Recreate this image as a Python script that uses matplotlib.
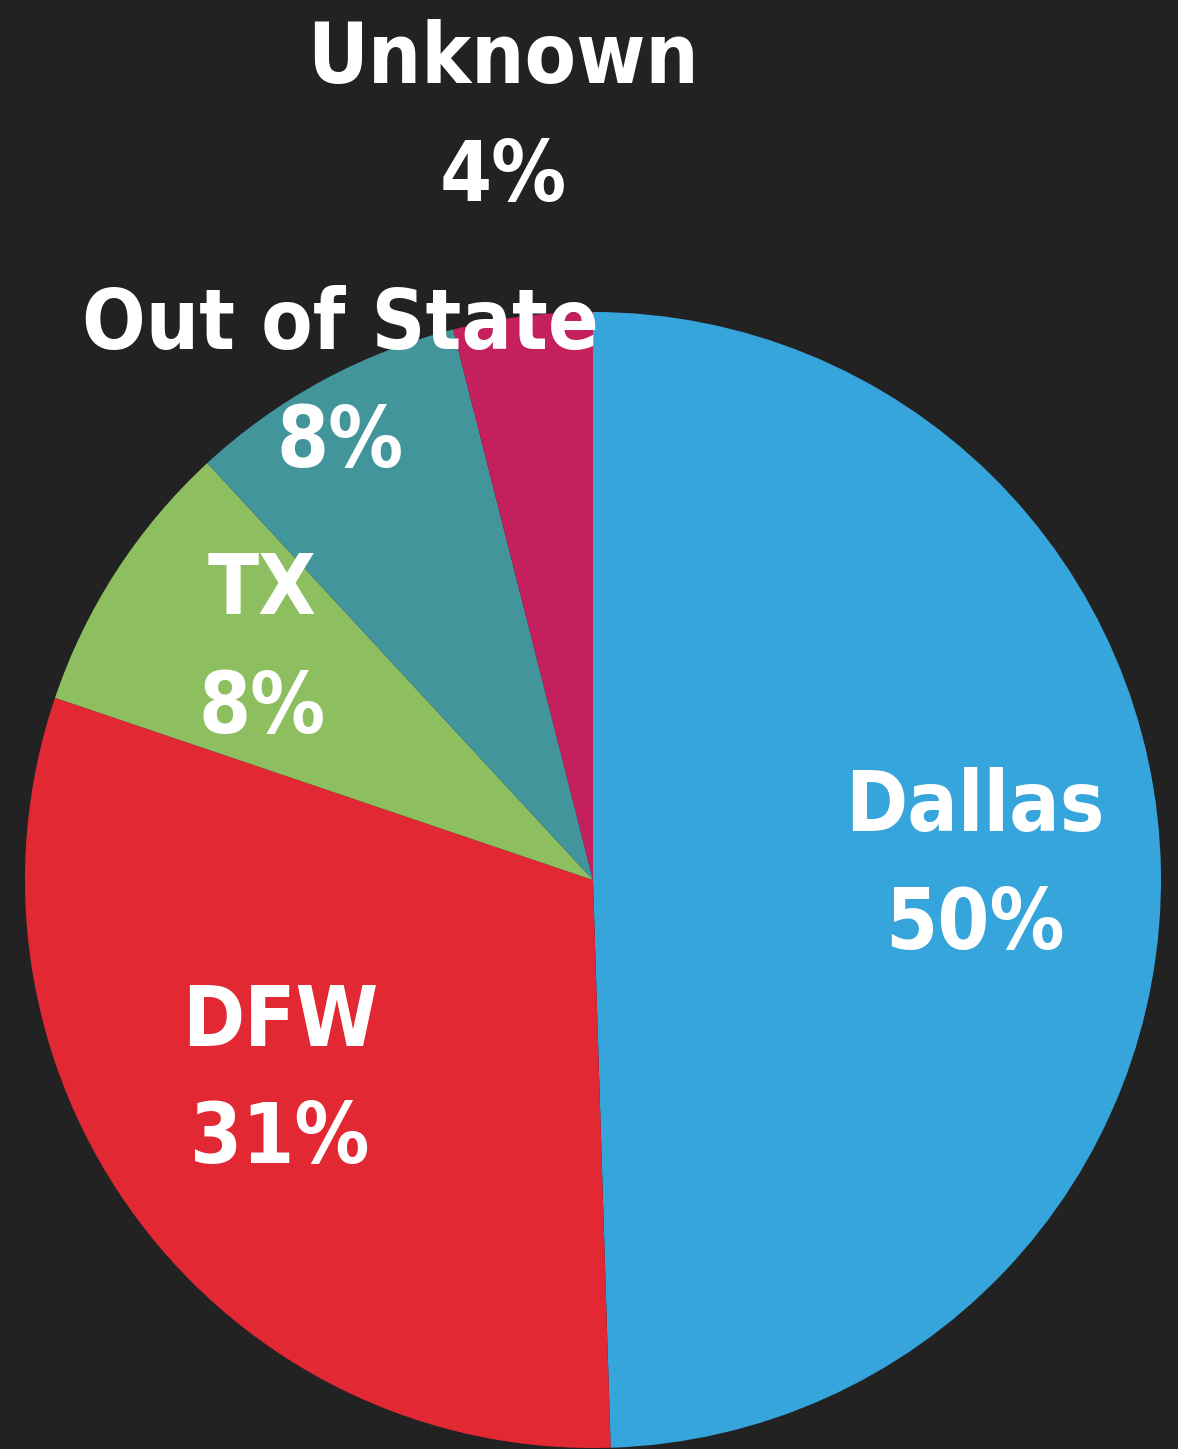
import matplotlib
matplotlib.use('Agg')
import matplotlib.pyplot as plt

# parts de chaque zone
regions = ['Dallas', 'DFW', 'TX', 'Out of State', 'Unknown']
parts = [50, 31, 8, 8, 4]
couleurs = ['#35a5db', '#e22832', '#8dbf61', '#42959b', '#c4205e']

W, H = 1178, 1449
fig = plt.figure(figsize=(W / 100, H / 100), dpi=100, facecolor='#222222')
ax = fig.add_axes([0, 0, 1, 1])
ax.set_facecolor('#222222')

# camembert : part Dallas partant du haut, sens horaire
ax.pie(parts, colors=couleurs, startangle=90, counterclock=False,
       center=(593, H - 880), radius=568,
       wedgeprops=dict(linewidth=0), frame=True)
ax.set_xlim(0, W)
ax.set_ylim(0, H)
ax.set_aspect('equal')
ax.axis('off')

# position des étiquettes (nom, puis pourcentage)
pos_labels = [(975, 807, 925), (280, 1022, 1140), (262, 590, 710),
              (340, 325, 443), (503, 60, 178)]
for nom, p, (x, y1, y2) in zip(regions, parts, pos_labels):
    for txt, y in ((nom, y1), (f'{p}%', y2)):
        ax.text(x, H - y, txt, color='white', fontsize=60, fontweight='bold',
                family='DejaVu Sans', fontstretch='condensed',
                ha='center', va='center')

fig.savefig('out.png', dpi=100, facecolor='#222222')
